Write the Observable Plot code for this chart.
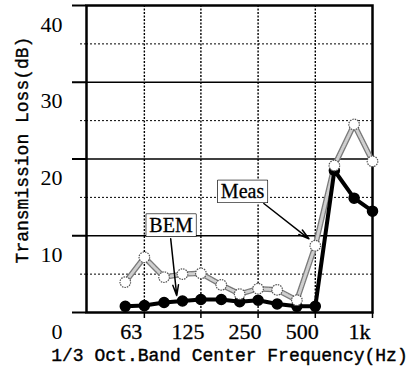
<!DOCTYPE html>
<html>
<head>
<meta charset="utf-8">
<script src="https://cdn.jsdelivr.net/npm/d3@7"></script>
<script src="https://cdn.jsdelivr.net/npm/@observablehq/plot@0.6"></script>
<style>
  html, body { margin: 0; padding: 0; background: #fff; }
</style>
</head>
<body>
<script>
// 1/3 octave band centre frequencies (Hz)
const freqs = [50, 63, 80, 100, 125, 160, 200, 250, 315, 400, 500, 630, 800, 1000];
// Measured transmission loss (dB)
const meas = [3.95, 7.2, 4.6, 5.0, 5.1, 3.6, 2.4, 3.1, 2.95, 1.6, 8.7, 19.15, 24.5, 19.7];
// BEM transmission loss (dB)
const bem = [0.8, 0.9, 1.3, 1.5, 1.7, 1.7, 1.4, 1.6, 1.1, 0.8, 0.8, 18.5, 14.9, 13.2];

const xTicks = [63, 125, 250, 500, 1000];
const xTickLabels = ["63", "125", "250", "500", "1k"];
const yMajor = [0, 10, 20, 30, 40];
const yMinor = [5, 15, 25, 35];
const yGrid = [10, 20, 30];
const xGrid = [63, 125, 250, 500];

const xTitle = "1/3 Oct.Band Center Frequency(Hz)";
const yTitle = "Transmission Loss(dB)";

// annotations: label, label position, arrow start and end (freq, dB)
const annLabels = ["Meas", "BEM"];
const annX = [207, 87];
const annY = [15.7, 11.3];
const arrowX1 = [268, 86.7];
const arrowY1 = [14.2, 9.6];
const arrowX2 = [463, 93.3];
const arrowY2 = [9.6, 2.2];

const measData = freqs.map((f, i) => ({f, v: meas[i]}));
const bemData = freqs.map((f, i) => ({f, v: bem[i]}));
const annData = annLabels.map((t, i) => ({t, x: annX[i], y: annY[i], x1: arrowX1[i], y1: arrowY1[i], x2: arrowX2[i], y2: arrowY2[i]}));
const xTickData = xTicks.map((t, i) => ({t, label: xTickLabels[i]}));

const serif = "'Liberation Serif', 'Times New Roman', serif";
const mono = "'Liberation Mono', 'Courier New', monospace";

const chart = Plot.plot({
  width: 414,
  height: 369,
  marginLeft: 86,
  marginRight: 42,
  marginTop: 5,
  marginBottom: 57,
  x: {type: "log", domain: [31.25, 1000], axis: null},
  y: {domain: [0, 40], axis: null},
  style: {background: "#fff", color: "#000", fontFamily: serif},
  marks: [
    Plot.ruleY(yGrid, {stroke: "#000", strokeWidth: 1.6}),
    Plot.ruleY(yMinor, {stroke: "#000", strokeWidth: 1, strokeDasharray: "2,2"}),
    Plot.ruleX(xGrid, {stroke: "#000", strokeWidth: 1.4, strokeDasharray: "2,1.5"}),
    Plot.axisY({ticks: yMinor, tickSize: 8, tickFormat: () => "", strokeWidth: 1, strokeDasharray: "2,2"}),
    Plot.axisY({ticks: yMajor, tickSize: 14, tickFormat: () => "", strokeWidth: 2}),
    Plot.axisY({ticks: yMajor, tickSize: 0, tickPadding: 24, dy: 19, fontSize: 22, fontFamily: serif, stroke: "#000", strokeWidth: 0.3, tickFormat: d => String(d)}),
    Plot.axisX(xTicks, {tickSize: 6, tickFormat: () => "", strokeWidth: 1.5}),
    Plot.text(xTickData, {x: "t", text: "label", frameAnchor: "bottom", dy: 19, dx: -13, fontSize: 22, fontFamily: serif, fill: "#000", stroke: "#000", strokeWidth: 0.3, lineAnchor: "middle"}),
    Plot.frame({stroke: "#000", strokeWidth: 2.5}),
    // Meas line (grey hatched)
    Plot.line(measData, {x: "f", y: "v", stroke: "#7a7a7a", strokeWidth: 5.5}),
    Plot.line(measData, {x: "f", y: "v", stroke: "#cfcfcf", strokeWidth: 3, strokeDasharray: "1,1.2"}),
    // BEM line
    Plot.line(bemData, {x: "f", y: "v", stroke: "#000", strokeWidth: 4}),
    Plot.dot(bemData, {x: "f", y: "v", r: 5, fill: "#000", stroke: "#000"}),
    Plot.dot(measData, {x: "f", y: "v", r: 5.3, fill: "#fff", stroke: "#555", strokeWidth: 1.2, strokeDasharray: "1.5,1"}),
    // annotations
    Plot.arrow(annData, {x1: "x1", y1: "y1", x2: "x2", y2: "y2", stroke: "#000", strokeWidth: 1.5, headLength: 11, headAngle: 30}),
    Plot.text(annData, {x: "x", y: "y", text: "t", fontSize: 20, fontFamily: serif, fill: "#000", stroke: "#000", strokeWidth: 0.3}),
    // axis titles
    Plot.text([xTitle], {frameAnchor: "bottom", dy: 43, fontSize: 18, fontFamily: mono, fill: "#000", stroke: "#000", strokeWidth: 0.4, lineAnchor: "middle", textAnchor: "middle"}),
    Plot.text([yTitle], {frameAnchor: "left", rotate: -90, dx: -64, dy: -9, fontSize: 18, fontFamily: mono, fill: "#000", stroke: "#000", strokeWidth: 0.4, lineAnchor: "middle", textAnchor: "middle"})
  ]
});

document.body.append(chart);

// white boxes behind annotation labels
d3.select(chart).selectAll("text").filter(function () {
  return annLabels.includes(this.textContent) && this.childElementCount === 0;
}).each(function () {
  const b = this.getBBox();
  const rect = document.createElementNS("http://www.w3.org/2000/svg", "rect");
  rect.setAttribute("x", b.x - 3);
  rect.setAttribute("y", b.y);
  rect.setAttribute("width", b.width + 6);
  rect.setAttribute("height", b.height);
  rect.setAttribute("fill", "#fff");
  rect.setAttribute("stroke", "#000");
  rect.setAttribute("stroke-width", "1.3");
  const tr = this.getAttribute("transform");
  if (tr) rect.setAttribute("transform", tr);
  this.parentNode.insertBefore(rect, this);
});
</script>
</body>
</html>
